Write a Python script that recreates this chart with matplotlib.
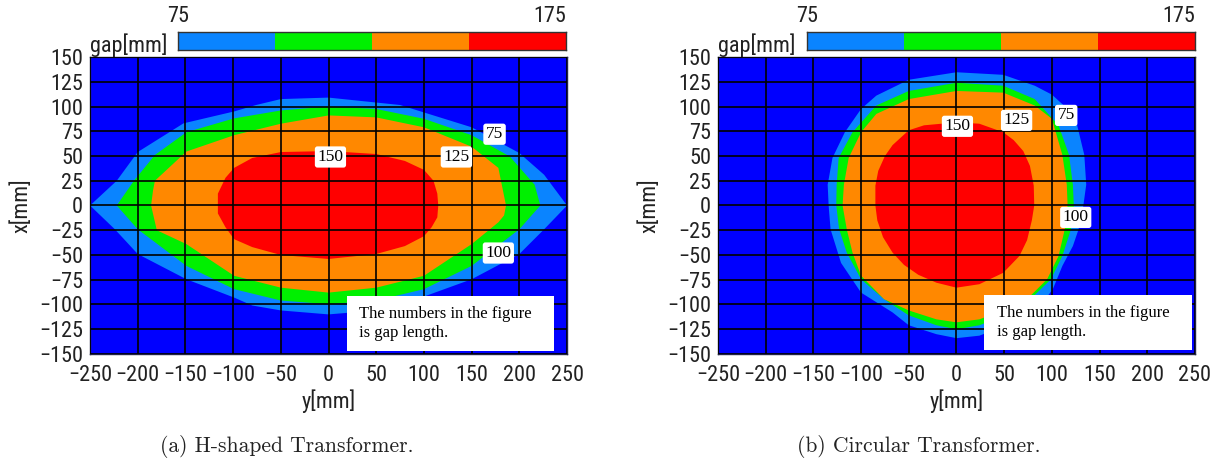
import matplotlib
matplotlib.use("Agg")
import matplotlib.pyplot as plt

# gap levels and their colours
levels = [75, 100, 125, 150, 175]
level_colors = ["#0a84ff", "#00f000", "#ff8800", "#ff0000"]
background = "#0000ff"

# H-shaped transformer: contour outlines, (y, x) in mm
h_75_y = [-250, -222, -200, -152, -99, -76, -50, 0, 75, 100, 150, 200, 226, 250,
          226, 200, 150, 100, 75, 50, 0, -50, -80, -99, -149, -200, -224]
h_75_x = [0, 25, 54, 83, 95, 101.5, 107.5, 109, 101.5, 94, 79, 53, 31, 0,
          -24, -49, -74.5, -92, -100, -106, -110, -106, -101, -93, -74.5, -49, -24]
h_100_y = [-222, -204, -182, -149, -99, -50, 0, 50, 100, 150, 190, 216, 222,
           200, 150, 100, 50, 0, -50, -99, -149, -200]
h_100_x = [0, 25, 51, 74, 88, 96, 100, 97.5, 87.6, 71, 49.5, 21, 0,
           -24, -61, -84.5, -96, -99.7, -96, -84.5, -61, -24]
h_125_y = [-186, -184, -182, -149, -99, -50, 0, 50, 100, 150, 178, 186,
           184, 178, 150, 100, 50, 0, -50, -99, -149, -180]
h_125_x = [0, 15, 25, 54.5, 71, 82.6, 91, 89, 79, 59.4, 38, 0,
           -10, -17, -39, -71, -83, -88, -83, -71, -39, -25]
h_150_y = [-116, -116, -108, -99, -80, -50, 0, 50, 80, 100, 110, 114, 115,
           114, 108, 100, 80, 50, 0, -50, -80, -99, -108]
h_150_x = [-8, 12, 28, 38, 48, 54, 55, 52, 45, 36, 25, 12, 0,
           -12, -22, -31, -41, -49, -54, -50, -42, -34, -22]

# circular transformer: contour outlines, (y, x) in mm
c_75_y = [0, 49, 82, 100, 124, 134, 136, 133, 128, 122, 111, 101, 85, 60, 24, 0,
          -21, -50, -67, -100, -121, -132, -134, -135, -130, -117, -100, -84, -50]
c_75_x = [134.6, 132, 121, 112, 91, 51, 21, 0, -24, -41, -61, -84.5, -105, -118, -131.5, -134,
          -130, -121, -108, -88, -58, -24, 0, 21, 48, 74, 97.5, 111, 127]
c_100_y = [0, 49, 82, 107, 118, 122, 123, 120, 111, 99, 74, 50, 24, 0,
           -21, -50, -76, -100, -115, -123, -126, -125.6, -123.5, -109, -84, -50]
c_100_x = [124, 121, 107.5, 81, 51, 21, 0, -24, -51, -74.5, -98, -111, -121, -125,
           -121, -111, -94.6, -74.5, -47.6, -24, 0, 21, 48, 74, 101, 115.7]
c_125_y = [0, 49, 82, 100, 111, 115.6, 116.5, 113.5, 107, 95, 74, 49, 24, 0,
           -21, -50, -76, -100, -109, -115, -119.4, -118, -113, -100, -84, -50]
c_125_x = [115.7, 114, 101, 87.6, 51, 21, 0, -24, -51, -74.5, -94.6, -106, -115, -118,
           -115, -106, -94.6, -71, -47.6, -24, 0, 21, 48, 74, 92.5, 107.5]
c_150_y = [0, 24, 49, 60, 70, 77, 81, 81.5, 79, 74, 66, 49, 24, 0,
           -21, -40, -55, -67, -77, -83, -85, -85, -82, -75, -67, -50, -34]
c_150_x = [84, 82.6, 74, 66, 55, 40, 20, 0, -15, -35, -51, -68, -79.5, -83,
           -78, -70, -60, -47.6, -32, -15, 0, 20, 35, 50, 61, 76, 81]

# in-plot gap labels: (y, x, text)
h_labels = [(174, 72, "75"), (2, 49, "150"), (134, 49, "125"), (178, -48, "100")]
c_labels = [(115, 91, "75"), (1, 80, "150"), (63, 86, "125"), (125, -12, "100")]

x_ticks = [-250, -200, -150, -100, -50, 0, 50, 100, 150, 200, 250]
y_ticks = [-150, -125, -100, -75, -50, -25, 0, 25, 50, 75, 100, 125, 150]

captions = ["(a) H-shaped Transformer.", "(b) Circular Transformer."]
note = "The numbers in the figure\nis gap length."

sans = ["Liberation Sans Narrow", "Roboto Condensed", "Liberation Sans", "DejaVu Sans"]
serif = ["Liberation Serif", "DejaVu Serif"]
cm = ["cmr10", "Liberation Serif"]
ink = "#222222"

fig = plt.figure(figsize=(12.2, 4.68), dpi=100)

panels = [
    (0.0738, 0.1459, [(h_75_y, h_75_x), (h_100_y, h_100_x), (h_125_y, h_125_x), (h_150_y, h_150_x)],
     h_labels, (19, -147, 217, 56), captions[0], 0.235),
    (0.5885, 0.6615, [(c_75_y, c_75_x), (c_100_y, c_100_x), (c_125_y, c_125_x), (c_150_y, c_150_x)],
     c_labels, (29, -146, 218, 56), captions[1], 0.753),
]

for left, cb_left, shapes, labels, box, caption, cap_x in panels:
    ax = fig.add_axes([left, 0.2436, 0.391, 0.6346])
    ax.set_facecolor(background)
    for (sy, sx), col in zip(shapes, level_colors):
        ax.fill(sy, sx, color=col, lw=0, zorder=1)
    ax.set_xlim(-250, 250)
    ax.set_ylim(-150, 150)
    ax.set_xticks(x_ticks)
    ax.set_yticks(y_ticks)
    ax.grid(True, color="black", lw=1.2, zorder=2)
    ax.set_axisbelow(False)
    ax.tick_params(length=0, labelsize=16, labelcolor=ink)
    ax.tick_params(axis="x", pad=8)
    ax.tick_params(axis="y", pad=5)
    for lab in ax.get_xticklabels() + ax.get_yticklabels():
        lab.set_family(sans)
    for sp in ax.spines.values():
        sp.set_color("#222244")
        sp.set_linewidth(1.0)
    ax.set_xlabel("y[mm]", fontsize=16, family=sans, color=ink, labelpad=2)
    ax.set_ylabel("x[mm]", fontsize=16, family=sans, color=ink, labelpad=5)

    for ly, lx, txt in labels:
        ax.text(ly, lx, txt, ha="center", va="center", fontsize=12.5, family=serif, zorder=5,
                bbox=dict(boxstyle="round,pad=0.15", fc="white", ec="none"))

    bx, by, bw, bh = box
    ax.add_patch(plt.Rectangle((bx, by), bw, bh, fc="white", ec="none", zorder=4))
    ax.text(bx + 13, by + bh / 2, note, ha="left", va="center", fontsize=12,
            family=serif, linespacing=1.25, zorder=5)

    # colour bar
    cax = fig.add_axes([cb_left, 0.8932, 0.318, 0.0385])
    for lv, col in zip(levels[:-1], level_colors):
        cax.barh(0, 25, left=lv, height=1, color=col, lw=0)
    cax.set_xlim(levels[0], levels[-1])
    cax.set_ylim(-0.5, 0.5)
    cax.set_xticks([])
    cax.set_yticks([])
    for sp in cax.spines.values():
        sp.set_color("#333333")
        sp.set_linewidth(1.0)
    cax.text(0, 1.25, str(levels[0]), transform=cax.transAxes, ha="center", va="bottom",
             fontsize=16, family=sans, color=ink)
    cax.text(1, 1.25, str(levels[-1]), transform=cax.transAxes, ha="right", va="bottom",
             fontsize=16, family=sans, color=ink)
    ax.text(0, 1.0, "gap[mm]", transform=ax.transAxes, ha="left", va="bottom",
            fontsize=16, family=sans, color=ink)

    fig.text(cap_x, 0.022, caption, ha="center", va="bottom", fontsize=15.5, family=cm, color="#222222")

fig.savefig("out.png", dpi=100)
